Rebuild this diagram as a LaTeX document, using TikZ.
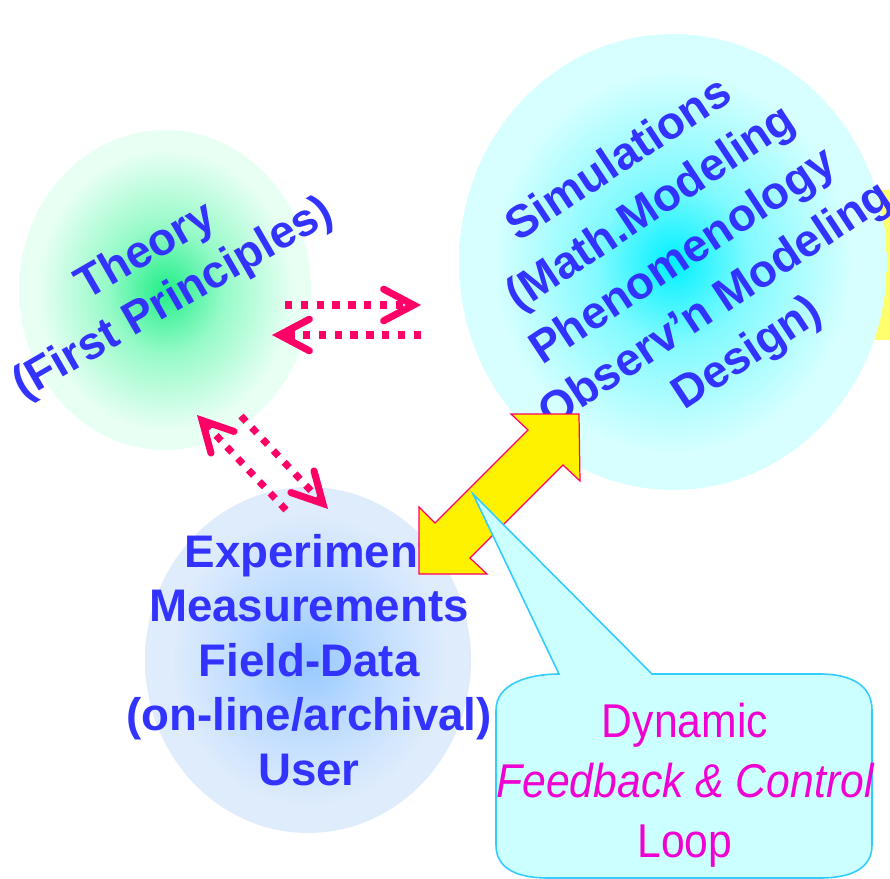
\documentclass[tikz,border=0pt]{standalone}
\usepackage{fontspec}
\setmainfont{Liberation Sans}
\newfontfamily\loopfont[FakeStretch=0.9]{Liberation Sans}
\usetikzlibrary{shapes.geometric,arrows.meta}
\definecolor{txtblue}{RGB}{51,51,255}
\definecolor{dotpink}{RGB}{255,0,102}
\definecolor{loopmagenta}{RGB}{240,0,210}
\definecolor{calloutfill}{RGB}{204,255,255}
\definecolor{calloutline}{RGB}{51,204,255}
\definecolor{patchyellow}{RGB}{255,255,110}
\definecolor{theoryin}{RGB}{34,238,136}
\definecolor{theorymid}{RGB}{150,250,200}
\definecolor{theoryout}{RGB}{232,255,244}
\definecolor{simin}{RGB}{0,240,255}
\definecolor{simmid}{RGB}{130,250,255}
\definecolor{simout}{RGB}{215,255,255}
\definecolor{exptin}{RGB}{150,200,255}
\definecolor{exptmid}{RGB}{190,220,255}
\definecolor{exptout}{RGB}{222,236,252}
\pgfdeclareradialshading{theoryglow}{\pgfpoint{0bp}{0bp}}{color(0bp)=(theoryin); color(10bp)=(theorymid); color(22bp)=(theoryout); color(50bp)=(theoryout)}
\pgfdeclareradialshading{simglow}{\pgfpoint{0bp}{0bp}}{color(0bp)=(simin); color(9bp)=(simmid); color(21bp)=(simout); color(50bp)=(simout)}
\pgfdeclareradialshading{exptglow}{\pgfpoint{0bp}{0bp}}{color(0bp)=(exptin); color(10bp)=(exptmid); color(21bp)=(exptout); color(50bp)=(exptout)}
\begin{document}
\begin{tikzpicture}[x=0.02cm,y=-0.02cm,
  blob/.style={ellipse,inner sep=0pt,shade},
  blobtext/.style={text=txtblue,align=center,font=\bfseries\fontsize{26}{31}\selectfont},
  dotarrow/.style={dotpink,line width=4pt,dash pattern=on 4.2pt off 4.8pt,-{Straight Barb[length=17pt,width=18pt,line cap=round]}}]
\useasboundingbox[fill=white] (0,0) rectangle (890,879);
\fill[patchyellow] (850,190) rectangle (890,340);
\node[blob,shading=theoryglow,minimum width=5.84cm,minimum height=6.4cm] (theory) at (165,290) {};
\node[blob,shading=simglow,minimum width=8.56cm,minimum height=9.12cm] (sim) at (673,262) {};
\node[blob,shading=exptglow,minimum width=6.52cm,minimum height=6.92cm] (expt) at (308,660) {};
\node[blobtext,rotate=30] (theorytext) at (160,276) {Theory\\(First Principles)};
\node[blobtext,rotate=33.5,font=\bfseries\fontsize{26}{33}\selectfont] (simtext) at (684,258) {Simulations\\(Math.Modeling\\Phenomenology\\Observ’n Modeling\\Design)};
\node[blobtext] (expttext) at (309,660) {Experiment\\Measurements\\Field-Data\\(on-line/archival)\\User};
\coordinate (ts-tail) at (285,305);
\coordinate (ts-head) at (421,305);
\coordinate (st-tail) at (421,335);
\coordinate (st-head) at (272,335);
\coordinate (te-tail) at (241,416);
\coordinate (te-head) at (328,509);
\coordinate (et-tail) at (286,510);
\coordinate (et-head) at (197,415);
\draw[dotarrow] (ts-tail) -- (ts-head);
\draw[dotarrow] (st-tail) -- (st-head);
\draw[dotarrow] (te-tail) -- (te-head);
\draw[dotarrow] (et-tail) -- (et-head);
\filldraw[fill=yellow,draw=dotpink,line width=0.7pt] (579,414) -- (580,481) -- (563,465) -- (470,558) -- (487,574) -- (419,574) -- (419,507) -- (435,523) -- (528,430) -- (511,414) -- cycle;
\filldraw[fill=calloutfill,draw=calloutline,line width=0.9pt] (496,710) .. controls (496,684) and (528,674) .. (559,674) -- (473,494) -- (652,674) -- (820,674) .. controls (852,674) and (872,686) .. (872,710) -- (872,845) .. controls (872,868) and (852,878) .. (820,878) -- (548,878) .. controls (516,878) and (496,868) .. (496,845) -- cycle;
\node[text=loopmagenta,align=center,font=\loopfont\fontsize{27}{34}\selectfont] (looptext) at (685,785) {Dynamic\\{\itshape Feedback \& Control}\\Loop};
\end{tikzpicture}
\end{document}
